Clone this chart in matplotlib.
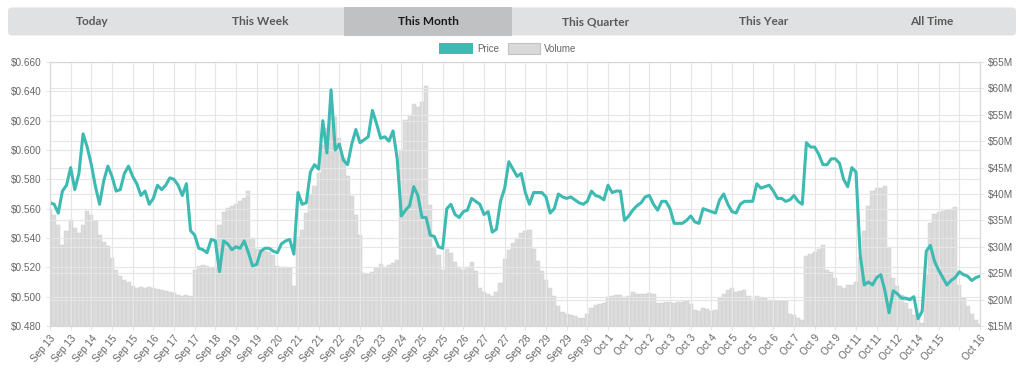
import matplotlib.pyplot as plt
from matplotlib.patches import FancyBboxPatch, Rectangle
from matplotlib.ticker import FuncFormatter
import numpy as np

plt.rcParams['font.family'] = ['Liberation Sans', 'DejaVu Sans']

# price (USD) and volume (millions USD)
price = [
    0.564, 0.563, 0.557, 0.572, 0.576, 0.588, 0.573, 0.584, 0.611, 0.602,
    0.590, 0.575, 0.563, 0.579, 0.589, 0.582, 0.572, 0.573, 0.584, 0.589,
    0.582, 0.577, 0.569, 0.572, 0.563, 0.567, 0.576, 0.573, 0.576, 0.581,
    0.580, 0.576, 0.569, 0.577, 0.545, 0.542, 0.533, 0.532, 0.530, 0.539,
    0.538, 0.517, 0.538, 0.536, 0.532, 0.534, 0.533, 0.538, 0.530, 0.521,
    0.522, 0.531, 0.533, 0.533, 0.531, 0.530, 0.536, 0.538, 0.539, 0.529,
    0.571, 0.563, 0.564, 0.585, 0.590, 0.587, 0.620, 0.598, 0.641, 0.600,
    0.604, 0.593, 0.590, 0.604, 0.614, 0.605, 0.607, 0.609, 0.627, 0.618,
    0.608, 0.609, 0.606, 0.613, 0.594, 0.555, 0.559, 0.562, 0.575, 0.569,
    0.554, 0.554, 0.542, 0.541, 0.534, 0.533, 0.560, 0.563, 0.556, 0.554,
    0.558, 0.559, 0.567, 0.565, 0.563, 0.556, 0.558, 0.544, 0.546, 0.565,
    0.574, 0.592, 0.587, 0.582, 0.584, 0.571, 0.563, 0.571, 0.571, 0.571,
    0.568, 0.557, 0.560, 0.570, 0.568, 0.567, 0.568, 0.566, 0.564, 0.563,
    0.565, 0.572, 0.569, 0.568, 0.566, 0.576, 0.571, 0.572, 0.572, 0.552,
    0.555, 0.559, 0.562, 0.564, 0.568, 0.569, 0.563, 0.559, 0.565, 0.565,
    0.560, 0.550, 0.550, 0.550, 0.552, 0.555, 0.551, 0.550, 0.560, 0.559,
    0.558, 0.557, 0.566, 0.570, 0.563, 0.558, 0.557, 0.563, 0.565, 0.565,
    0.565, 0.577, 0.574, 0.575, 0.576, 0.572, 0.567, 0.567, 0.565, 0.566,
    0.569, 0.565, 0.563, 0.605, 0.602, 0.602, 0.597, 0.590, 0.590, 0.594,
    0.594, 0.591, 0.580, 0.575, 0.588, 0.585, 0.529, 0.508, 0.510, 0.508,
    0.513, 0.515, 0.504, 0.489, 0.504, 0.502, 0.499, 0.499, 0.498, 0.500,
    0.485, 0.490, 0.531, 0.535, 0.524, 0.518, 0.513, 0.508, 0.511, 0.513,
    0.517, 0.515, 0.514, 0.511, 0.513, 0.514,
]
volume = [
    37.0, 36.1, 34.2, 30.4, 32.9, 35.1, 33.6, 32.6, 34.2, 36.7,
    36.1, 34.8, 32.3, 31.0, 30.1, 27.9, 25.7, 24.4, 23.8, 23.3,
    22.5, 22.2, 22.4, 22.2, 22.3, 22.2, 22.1, 21.8, 21.6, 21.4,
    21.2, 20.9, 20.6, 20.8, 20.6, 25.7, 26.4, 26.5, 26.3, 26.0,
    26.1, 34.2, 36.6, 37.3, 37.8, 38.2, 38.6, 39.2, 40.5, 31.7,
    29.5, 29.3, 29.2, 29.0, 28.5, 26.3, 26.2, 26.2, 26.0, 22.5,
    31.8, 33.1, 36.4, 40.0, 41.6, 44.0, 49.3, 52.5, 55.0, 54.5,
    50.6, 46.8, 43.5, 39.6, 36.1, 32.3, 25.0, 24.9, 25.3, 25.9,
    26.8, 26.1, 26.6, 26.9, 27.5, 48.4, 54.1, 55.0, 57.1, 56.4,
    57.4, 60.5, 38.0, 29.9, 28.5, 25.7, 29.6, 28.8, 27.1, 26.1,
    25.7, 26.1, 27.1, 25.4, 22.2, 21.5, 21.1, 20.7, 21.4, 23.1,
    27.6, 29.3, 30.7, 31.7, 32.6, 32.9, 33.2, 29.5, 27.4, 25.4,
    23.8, 22.2, 20.6, 18.7, 17.7, 17.3, 17.1, 16.8, 16.5, 16.5,
    17.3, 18.5, 19.0, 19.2, 19.4, 20.4, 20.6, 20.8, 20.9, 20.5,
    20.7, 21.4, 21.1, 21.1, 21.0, 21.2, 21.0, 19.4, 19.4, 19.6,
    19.6, 19.4, 19.5, 19.5, 19.7, 19.2, 18.1, 17.9, 18.4, 18.2,
    17.8, 18.1, 20.3, 21.1, 21.8, 22.2, 21.4, 21.6, 21.9, 20.7,
    20.0, 20.6, 20.4, 20.3, 20.0, 20.0, 19.8, 19.8, 19.7, 17.3,
    17.0, 16.5, 16.2, 28.2, 28.7, 29.1, 29.6, 30.3, 25.7, 25.2,
    24.1, 22.5, 22.2, 22.8, 22.8, 23.3, 28.0, 32.9, 37.7, 40.5,
    41.1, 41.1, 41.5, 30.0, 24.1, 22.5, 20.8, 19.4, 18.2, 17.1,
    16.3, 15.6, 24.7, 34.5, 36.2, 36.6, 36.8, 37.0, 37.2, 37.5,
    22.8, 20.3, 18.7, 17.3, 16.1, 15.3,
]
tick_labels = [
    'Sep 13', 'Sep 13', 'Sep 14', 'Sep 15', 'Sep 15', 'Sep 16', 'Sep 17',
    'Sep 17', 'Sep 18', 'Sep 19', 'Sep 19', 'Sep 20', 'Sep 21', 'Sep 21',
    'Sep 22', 'Sep 23', 'Sep 23', 'Sep 24', 'Sep 25', 'Sep 25', 'Sep 26',
    'Sep 27', 'Sep 27', 'Sep 28', 'Sep 29', 'Sep 29', 'Sep 30', 'Oct 1',
    'Oct 1', 'Oct 2', 'Oct 3', 'Oct 3', 'Oct 4', 'Oct 5', 'Oct 5', 'Oct 6',
    'Oct 7', 'Oct 9', 'Oct 9', 'Oct 11', 'Oct 11', 'Oct 12', 'Oct 14',
    'Oct 15', '', 'Oct 16',
]
tabs = ['Today', 'This Week', 'This Month', 'This Quarter', 'This Year', 'All Time']
active_tab = 'This Month'

teal = '#3dbab1'
grid_c = '#e6e6e6'
text_c = '#666666'

W, H = 1024, 373
fig = plt.figure(figsize=(W / 100, H / 100), dpi=100)

# tab bar
fig.patches.append(FancyBboxPatch((0.08, (H - 35.5) / 100), 10.08, 0.28,
                                  boxstyle='round,pad=0,rounding_size=0.04',
                                  transform=fig.dpi_scale_trans,
                                  fc='#e0e1e2', ec='none'))
tab_w = 1008 / len(tabs)
for j, name in enumerate(tabs):
    x0 = 8 + j * tab_w
    if name == active_tab:
        fig.patches.append(Rectangle((x0 / 100, (H - 35.5) / 100), tab_w / 100, 0.28,
                                     transform=fig.dpi_scale_trans,
                                     fc='#c0c1c2', ec='none'))
    fig.text((x0 + tab_w / 2) / W, 1 - 21.7 / H, name, ha='center', va='center',
             family=['Lato', 'DejaVu Sans'], weight='bold', fontsize=8.6,
             color='#1a1a1a' if name == active_tab else '#5a5a5a')

# legend
fig.patches.append(Rectangle((439 / 100, (H - 54.3) / 100), 0.34, 0.116,
                             transform=fig.dpi_scale_trans, fc=teal, ec='none'))
fig.text(477 / W, 1 - 48.5 / H, 'Price', ha='left', va='center', fontsize=7, color=text_c)
fig.patches.append(Rectangle((507.5 / 100, (H - 54.0) / 100), 0.32, 0.11,
                             transform=fig.dpi_scale_trans, fc='#d9d9d9',
                             ec='#c2c2c2', lw=0.8))
fig.text(544 / W, 1 - 48.5 / H, 'Volume', ha='left', va='center', fontsize=7, color=text_c)

# chart
ax = fig.add_axes([50 / W, 1 - 326 / H, 930 / W, 264 / H])
ax2 = ax.twinx()
x = np.arange(len(price))

ax2.bar(x, volume, width=1.0, color='#dcdcdc', edgecolor='#cdcdcd', linewidth=0.3)
ax2.set_ylim(15, 65)
ax2.set_yticks(np.arange(15, 66, 5))
ax2.yaxis.set_major_formatter(FuncFormatter(lambda v, p: '$%dM' % v))
ax2.set_axisbelow(False)
ax2.grid(axis='y', color=grid_c, lw=0.8)

ax.plot(x, price, color=teal, lw=2.2, solid_joinstyle='round')
ax.set_ylim(0.48, 0.66)
ax.set_yticks(np.arange(0.48, 0.6601, 0.02))
ax.yaxis.set_major_formatter(FuncFormatter(lambda v, p: '$%.3f' % v))
ax.set_xlim(0, len(price) - 1)
ax.set_xticks(np.arange(0, len(price), 5))
ax.set_xticklabels(tick_labels)
ax.set_axisbelow(True)
ax.grid(True, color=grid_c, lw=0.8)

ax.set_zorder(ax2.get_zorder() + 1)
ax.patch.set_visible(False)

for a in (ax, ax2):
    a.tick_params(axis='y', length=3, color=grid_c, labelsize=7.2, labelcolor=text_c, pad=3)
    for s in a.spines.values():
        s.set_color('#d9d9d9')
        s.set_linewidth(0.8)
ax.tick_params(axis='x', length=3, color=grid_c, labelsize=7.2, labelcolor=text_c,
               pad=2, labelrotation=50)
for lab in ax.get_xticklabels():
    lab.set_ha('right')
    lab.set_rotation_mode('anchor')

fig.savefig('out.png', dpi=100)
